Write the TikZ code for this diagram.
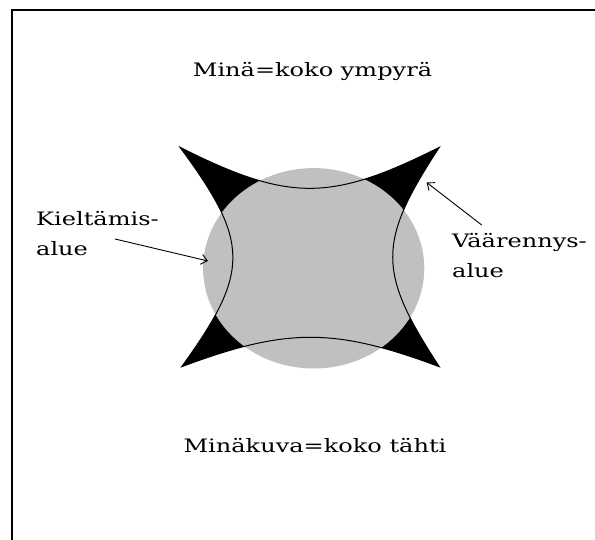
\documentclass[tikz,border=0pt]{standalone}
\usepackage{fontspec}
\setmainfont{DejaVu Serif}[FakeStretch=1.3]
\usetikzlibrary{arrows.meta}
\definecolor{ympyragray}{RGB}{192,192,192}
\begin{document}
\begin{tikzpicture}[x=1pt, y=-1pt, >={Straight Barb[length=6pt,width=10pt]},
    teksti/.style={font=\fontsize{18.5}{30}\selectfont, inner sep=0pt, align=left}]
    \useasboundingbox (0,0) rectangle (595,540);

    % frame, only left and top edges show
    \begin{scope}
        \clip (0,0) rectangle (595,540);
        \draw[line width=2pt] (12,560) -- (12,10) -- (620,10);
    \end{scope}

    % tips of the star
    \coordinate (tl) at (180,147.3);
    \coordinate (tr) at (439.3,147.3);
    \coordinate (br) at (439.3,366.7);
    \coordinate (bl) at (181.7,366.7);
    \def\tahti{(tl) .. controls (289,202) and (330.3,202) .. (tr)
        .. controls (377.2,242.3) and (377.2,271.7) .. (br)
        .. controls (334.3,327.5) and (286.7,327.5) .. (bl)
        .. controls (250.2,271.7) and (250.2,242.3) .. (tl) -- cycle}

    \fill[black] \tahti;
    \fill[ympyragray] (313.7,268.3) ellipse [x radius=110.6, y radius=100.2];
    \draw[line width=1pt] \tahti;

    \node[teksti, anchor=base] (mina) at (312.5,76.7) {Minä=koko ympyrä};
    \node[teksti, anchor=base] (minakuva) at (315,452.5) {Minäkuva=koko tähti};
    % base of a two-line node is the last line
    \node[teksti, anchor=base west] (kieltamis) at (36,256) {Kieltämis-\\alue};
    \node[teksti, anchor=base west] (vaarennys) at (452,278) {Väärennys-\\alue};

    \coordinate (kieltail) at (115,239);
    \coordinate (kieltip) at (208,261);
    \coordinate (vaartail) at (481.7,225);
    \coordinate (vaartip) at (426.7,182.5);
    \draw[->, line width=0.9pt] (kieltail) -- (kieltip);
    \draw[->, line width=0.9pt] (vaartail) -- (vaartip);
\end{tikzpicture}
\end{document}
